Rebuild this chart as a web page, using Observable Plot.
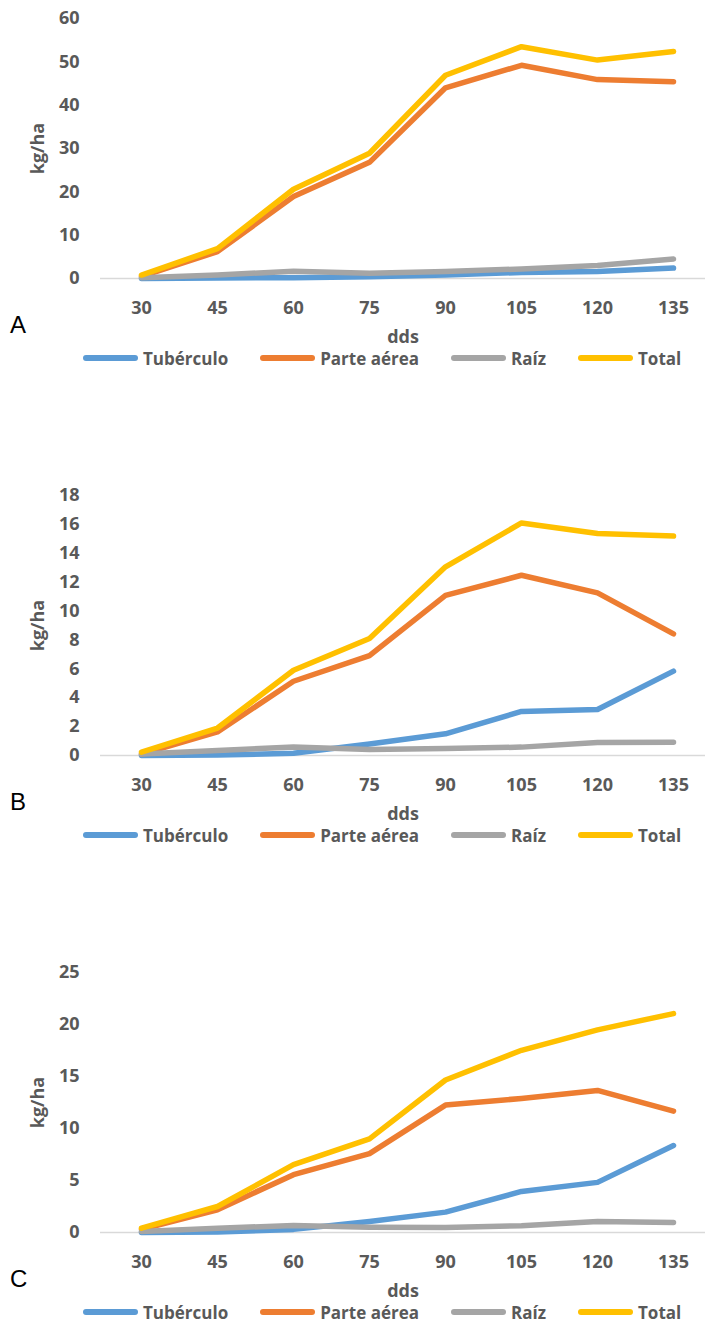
<!DOCTYPE html>
<html>
<head>
<meta charset="utf-8">
<script src="https://cdn.jsdelivr.net/npm/d3@7"></script>
<script src="https://cdn.jsdelivr.net/npm/@observablehq/plot@0.6"></script>
<style>
  body { margin: 0; background: #fff; font-family: "Open Sans", sans-serif; }
  .panel { position: relative; width: 705px; height: 477px; }
  .panel svg { display: block; overflow: visible; }
  .letter { position: absolute; left: 10px; top: 313px; font: 24px/1 "Liberation Sans", Arial, sans-serif; color: #000; }
  .legend { display: flex; align-items: center; height: 20px; margin-top: 1px; padding-left: 83px; gap: 32px;
            font-size: 17px; line-height: 1; font-weight: 700; color: #595959; }
  .legend .item { display: flex; align-items: center; gap: 5px; white-space: nowrap; }
  .legend .sw { display: inline-block; width: 55px; height: 6px; border-radius: 3px; }
</style>
</head>
<body>
<div id="chart"></div>
<script>
// días después de la siembra
const dds = [30, 45, 60, 75, 90, 105, 120, 135];
const series = ["Tubérculo", "Parte aérea", "Raíz", "Total"];
const colors = ["#5B9BD5", "#ED7D31", "#A5A5A5", "#FFC000"];

// A
const tuberculoA = [0.0, 0.1, 0.2, 0.4, 0.8, 1.4, 1.6, 2.4];
const parteA     = [0.5, 6.2, 18.9, 26.8, 44.0, 49.2, 45.9, 45.4];
const raizA      = [0.2, 0.8, 1.7, 1.2, 1.6, 2.2, 3.0, 4.5];
const totalA     = [0.8, 6.9, 20.6, 28.9, 46.9, 53.5, 50.4, 52.4];
const ticksA     = [0, 10, 20, 30, 40, 50, 60];

// B
const tuberculoB = [0.0, 0.03, 0.15, 0.8, 1.5, 3.05, 3.18, 5.84];
const parteB     = [0.1, 1.63, 5.14, 6.92, 11.08, 12.48, 11.26, 8.42];
const raizB      = [0.1, 0.35, 0.58, 0.42, 0.48, 0.58, 0.9, 0.92];
const totalB     = [0.23, 1.9, 5.9, 8.1, 13.06, 16.1, 15.37, 15.19];
const ticksB     = [0, 2, 4, 6, 8, 10, 12, 14, 16, 18];

// C
const tuberculoC = [0.0, 0.05, 0.3, 1.06, 1.96, 3.95, 4.82, 8.36];
const parteC     = [0.3, 2.19, 5.56, 7.59, 12.25, 12.89, 13.66, 11.67];
const raizC      = [0.1, 0.4, 0.68, 0.5, 0.48, 0.65, 1.06, 0.96];
const totalC     = [0.42, 2.5, 6.53, 9.0, 14.66, 17.52, 19.48, 21.05];
const ticksC     = [0, 5, 10, 15, 20, 25];

const panels = [
  {letter: "A", values: [tuberculoA, parteA, raizA, totalA], ticks: ticksA},
  {letter: "B", values: [tuberculoB, parteB, raizB, totalB], ticks: ticksB},
  {letter: "C", values: [tuberculoC, parteC, raizC, totalC], ticks: ticksC}
];

const root = document.getElementById("chart");

for (const p of panels) {
  const rows = [];
  p.values.forEach((vals, i) => vals.forEach((v, j) => rows.push({dds: dds[j], serie: series[i], value: v})));

  const plot = Plot.plot({
    width: 705,
    height: 347,
    marginTop: 18,
    marginBottom: 69,
    marginLeft: 100,
    marginRight: 0,
    style: {fontFamily: "Open Sans", fontSize: "18px", fontWeight: 700, color: "#595959", background: "#fff", overflow: "visible"},
    x: {type: "point", domain: dds, range: [138, 675], padding: 0},
    y: {domain: [0, p.ticks[p.ticks.length - 1]]},
    color: {domain: series, range: colors},
    marks: [
      Plot.ruleY([0], {stroke: "#D9D9D9", strokeWidth: 1.5}),
      Plot.axisX({tickSize: 0, tickPadding: 23, label: "dds", labelAnchor: "center", labelOffset: 64, labelArrow: "none"}),
      Plot.axisY({ticks: p.ticks, tickSize: 0, tickPadding: 21, label: "kg/ha", labelAnchor: "center", labelOffset: 69, labelArrow: "none"}),
      Plot.line(rows, {x: "dds", y: "value", z: "serie", stroke: "serie", strokeWidth: 5.5,
                       strokeLinejoin: "round", strokeLinecap: "round"})
    ]
  });

  const panel = document.createElement("div");
  panel.className = "panel";
  panel.appendChild(plot);

  const legend = document.createElement("div");
  legend.className = "legend";
  series.forEach((s, i) => {
    const item = document.createElement("span");
    item.className = "item";
    const sw = document.createElement("span");
    sw.className = "sw";
    sw.style.background = colors[i];
    item.appendChild(sw);
    item.appendChild(document.createTextNode(s));
    legend.appendChild(item);
  });
  panel.appendChild(legend);

  const letter = document.createElement("div");
  letter.className = "letter";
  letter.textContent = p.letter;
  panel.appendChild(letter);

  root.appendChild(panel);
}
</script>
</body>
</html>
